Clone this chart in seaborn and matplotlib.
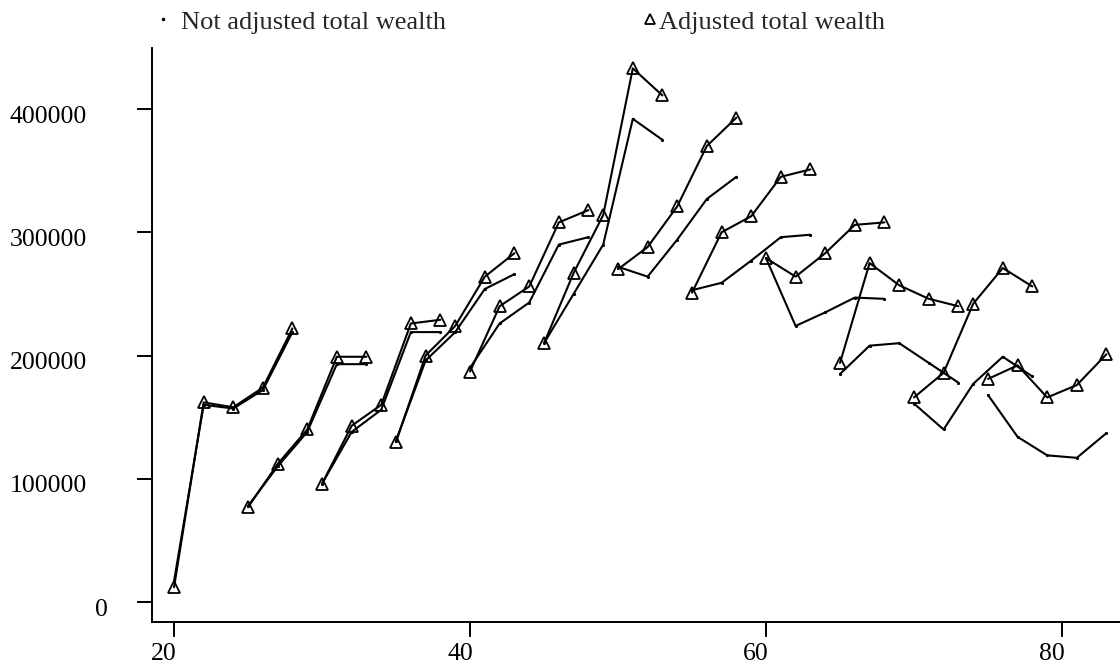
import matplotlib
matplotlib.use("Agg")
import matplotlib.pyplot as plt
from matplotlib.lines import Line2D
from matplotlib.transforms import ScaledTranslation
import numpy as np
import pandas as pd
import seaborn as sns

# Age of each observation, one row per birth cohort (observed every 2 years)
ages = [
    20, 22, 24, 26, 28,
    25, 27, 29, 31, 33,
    30, 32, 34, 36, 38,
    35, 37, 39, 41, 43,
    40, 42, 44, 46, 48,
    45, 47, 49, 51, 53,
    50, 52, 54, 56, 58,
    55, 57, 59, 61, 63,
    60, 62, 64, 66, 68,
    65, 67, 69, 71, 73,
    70, 72, 74, 76, 78,
    75, 77, 79, 81, 83,
]

# Cohort identifier (age at first observation)
cohort = [c for c in range(20, 80, 5) for _ in range(5)]

# Total wealth, adjusted
adjusted = [
    12000, 162000, 158000, 174000, 222000,
    77000, 112000, 140000, 199000, 199000,
    96000, 143000, 160000, 226000, 229000,
    130000, 200000, 224000, 264000, 283000,
    187000, 240000, 256000, 308000, 318000,
    210000, 267000, 314000, 433000, 411000,
    270000, 288000, 321000, 370000, 393000,
    251000, 300000, 313000, 345000, 351000,
    279000, 264000, 283000, 306000, 308000,
    194000, 275000, 257000, 246000, 240000,
    166000, 186000, 242000, 271000, 256000,
    181000, 192000, 166000, 176000, 201000,
]

# Total wealth, not adjusted
not_adjusted = [
    17000, 160000, 157000, 172000, 219000,
    78000, 110000, 138000, 193000, 193000,
    96000, 138000, 156000, 219000, 219000,
    131000, 196000, 219000, 254000, 266000,
    190000, 226000, 243000, 290000, 296000,
    210000, 250000, 290000, 392000, 375000,
    272000, 264000, 294000, 327000, 345000,
    253000, 259000, 277000, 296000, 298000,
    279000, 224000, 235000, 247000, 246000,
    185000, 208000, 210000, 194000, 178000,
    161000, 140000, 177000, 199000, 183000,
    168000, 134000, 119000, 117000, 137000,
]

x_ticks = [20, 40, 60, 80]
y_ticks = [0, 100000, 200000, 300000, 400000]
y_tick_labels = ["0", "100000", "200000", "300000", "400000"]
series_labels = ["Not adjusted total wealth", "Adjusted total wealth"]

df = pd.DataFrame({
    "age": ages,
    "cohort": cohort,
    "adjusted": adjusted,
    "not_adjusted": not_adjusted,
})

sns.set_theme(style="ticks")
plt.rcParams["font.family"] = ["Liberation Serif", "DejaVu Serif"]
plt.rcParams["axes.edgecolor"] = "black"
plt.rcParams["xtick.color"] = "black"
plt.rcParams["ytick.color"] = "black"

W, H = 1120, 667
fig = plt.figure(figsize=(W / 100, H / 100), dpi=100)
ax = fig.add_axes([152 / W, 45 / H, 968 / W, 574 / H])

sns.lineplot(data=df, x="age", y="not_adjusted", units="cohort", estimator=None,
             sort=False, color="black", lw=1.5, marker=".", ms=3,
             mec="black", ax=ax, legend=False)
sns.lineplot(data=df, x="age", y="adjusted", units="cohort", estimator=None,
             sort=False, color="black", lw=1.5, marker="^", ms=9,
             mfc="none", mec="black", mew=1.3, ax=ax, legend=False)

ax.set_xlim(18.51, 83.92)
ax.set_ylim(-16200, 449500)
ax.set_xlabel("")
ax.set_ylabel("")

ax.set_xticks(x_ticks)
ax.set_xticklabels([str(v) for v in x_ticks])
ax.set_yticks(y_ticks)
ax.set_yticklabels(y_tick_labels)
ax.tick_params(direction="out", length=10.8, width=1.4, labelsize=18.5)
ax.tick_params(axis="x", pad=4)
for tick, lab in zip(ax.yaxis.get_major_ticks(), y_tick_labels):
    tick.set_pad(21 if lab == "0" else 36)

# nudge tick labels: x labels sit slightly left of their ticks, y labels slightly low
for lab in ax.get_xticklabels():
    lab.set_transform(lab.get_transform() + ScaledTranslation(-0.10, 0, fig.dpi_scale_trans))
for lab in ax.get_yticklabels():
    lab.set_transform(lab.get_transform() + ScaledTranslation(0, -0.05, fig.dpi_scale_trans))

sns.despine(ax=ax)
for side in ("left", "bottom"):
    ax.spines[side].set_linewidth(1.4)
    ax.spines[side].set_color("black")

dot_handle = Line2D([], [], ls="none", marker=".", ms=3, color="black")
tri_handle = Line2D([], [], ls="none", marker="^", ms=7, mfc="none", mec="black", mew=1.3)
common = dict(loc="center left", frameon=False, fontsize=19, handlelength=0.5,
              borderpad=0, borderaxespad=0)
leg1 = fig.legend([dot_handle], [series_labels[0]],
                  bbox_to_anchor=(156.4 / W, 1 - 22 / H), handletextpad=0.43, **common)
leg2 = fig.legend([tri_handle], [series_labels[1]],
                  bbox_to_anchor=(643.4 / W, 1 - 22 / H), handletextpad=0.09, **common)

fig.savefig("out.png", dpi=100)
